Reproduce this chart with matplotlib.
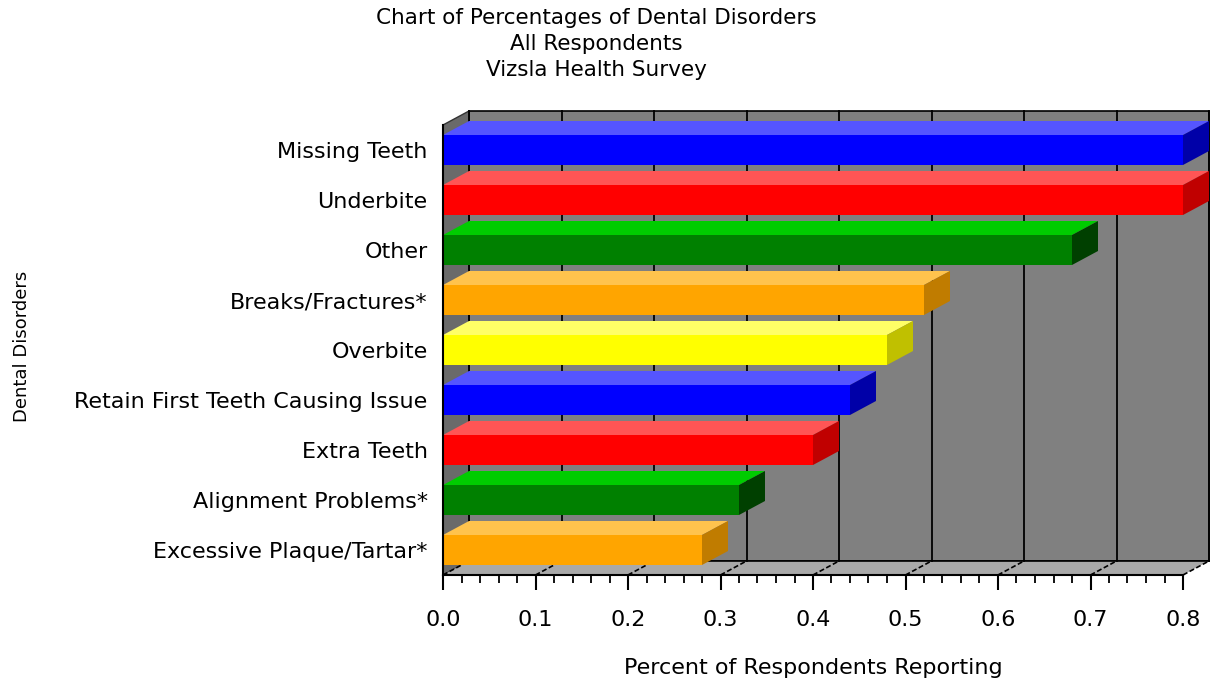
import matplotlib.pyplot as plt
from matplotlib.patches import Polygon, Rectangle
from matplotlib.ticker import MultipleLocator

# --- data (top to bottom as shown) ---
categories = [
    "Missing Teeth",
    "Underbite",
    "Other",
    "Breaks/Fractures*",
    "Overbite",
    "Retain First Teeth Causing Issue",
    "Extra Teeth",
    "Alignment Problems*",
    "Excessive Plaque/Tartar*",
]
values = [0.80, 0.80, 0.68, 0.52, 0.48, 0.44, 0.40, 0.32, 0.28]

# (front, top, side) shades per bar
bar_colors = [
    ("#0000FF", "#5555FF", "#0000A8"),
    ("#FF0000", "#FF5555", "#C00000"),
    ("#008000", "#00CC00", "#004000"),
    ("#FFA500", "#FFC34D", "#C07C00"),
    ("#FFFF00", "#FFFF66", "#C0C000"),
    ("#0000FF", "#5555FF", "#0000A8"),
    ("#FF0000", "#FF5555", "#C00000"),
    ("#008000", "#00CC00", "#004000"),
    ("#FFA500", "#FFC34D", "#C07C00"),
]

XMAX = 0.8
FONT = 16

fig = plt.figure(figsize=(12.12, 6.83), dpi=100)
ax = fig.add_axes([443 / 1212, 108 / 683, 740 / 1212, 450 / 683])
ax.set_xlim(0, XMAX)
ax.set_ylim(-0.5, len(categories) - 0.5)
ax.set_facecolor("none")

# depth offset (26 px right, 14 px up) in data units
dx = 26 * XMAX / 740
dy = 14 * len(categories) / 450
ybot, ytop = -0.5, len(categories) - 0.5

# back wall, left wall, floor
ax.add_patch(Rectangle((dx, ybot + dy), XMAX, ytop - ybot, facecolor="#808080",
                       edgecolor="black", lw=1.2, zorder=0, clip_on=False))
ax.add_patch(Polygon([(0, ybot), (dx, ybot + dy), (dx, ytop + dy), (0, ytop)],
                     closed=True, facecolor="#6a6a6a", edgecolor="#333333",
                     lw=1, zorder=0, clip_on=False))
ax.add_patch(Polygon([(0, ybot), (XMAX, ybot), (XMAX + dx, ybot + dy), (dx, ybot + dy)],
                     closed=True, facecolor="#a9a9a9", edgecolor="none",
                     zorder=0, clip_on=False))

# gridlines on the back wall and dashed lines across the floor
for k in range(9):
    xv = k * 0.1
    ax.plot([xv + dx, xv + dx], [ybot + dy, ytop + dy], color="black", lw=1.3,
            zorder=1, clip_on=False)
    ax.plot([xv, xv + dx], [ybot, ybot + dy], color="black", lw=1.2,
            ls=(0, (3, 1.5)), zorder=1, clip_on=False)
ax.plot([dx, XMAX + dx], [ybot + dy, ybot + dy], color="black", lw=1.2,
        zorder=1, clip_on=False)

# 3-D bars
h = 0.6
n = len(categories)
for idx, (v, (cf, ct, cs)) in enumerate(zip(values, bar_colors)):
    y = n - 1 - idx
    y0, y1 = y - h / 2, y + h / 2
    ax.add_patch(Rectangle((0, y0), v, h, facecolor=cf, edgecolor="none",
                           zorder=3, clip_on=False))
    ax.add_patch(Polygon([(0, y1), (v, y1), (v + dx, y1 + dy), (dx, y1 + dy)],
                         closed=True, facecolor=ct, edgecolor="none",
                         zorder=3, clip_on=False))
    ax.add_patch(Polygon([(v, y0), (v + dx, y0 + dy), (v + dx, y1 + dy), (v, y1)],
                         closed=True, facecolor=cs, edgecolor="none",
                         zorder=3, clip_on=False))

# axes styling
for s in ["top", "right"]:
    ax.spines[s].set_visible(False)
ax.spines["bottom"].set_linewidth(1.5)
ax.spines["left"].set_linewidth(1.5)
ax.spines["bottom"].set_zorder(4)
ax.spines["left"].set_zorder(4)

ax.xaxis.set_major_locator(MultipleLocator(0.1))
ax.xaxis.set_minor_locator(MultipleLocator(0.02))
ax.xaxis.set_major_formatter(plt.FuncFormatter(lambda x, p: f"{x:.1f}"))
ax.tick_params(axis="x", which="major", direction="out", length=11, width=1.5,
               pad=14, labelsize=FONT)
ax.tick_params(axis="x", which="minor", direction="out", length=6, width=1.3)

ax.set_yticks(range(n))
ax.set_yticklabels(categories[::-1], fontsize=FONT)
ax.tick_params(axis="y", length=0, pad=11)

ax.set_xlabel("Percent of Respondents Reporting", fontsize=FONT, labelpad=20)
fig.text(22 / 1212, 1 - 346 / 683, "Dental Disorders", rotation=90,
         fontsize=13, ha="center", va="center")

fig.text(596 / 1212, 1 - 44 / 683,
         "Chart of Percentages of Dental Disorders\nAll Respondents\nVizsla Health Survey",
         ha="center", va="center", fontsize=15.5, linespacing=1.38)

plt.savefig("out.png", dpi=100)
